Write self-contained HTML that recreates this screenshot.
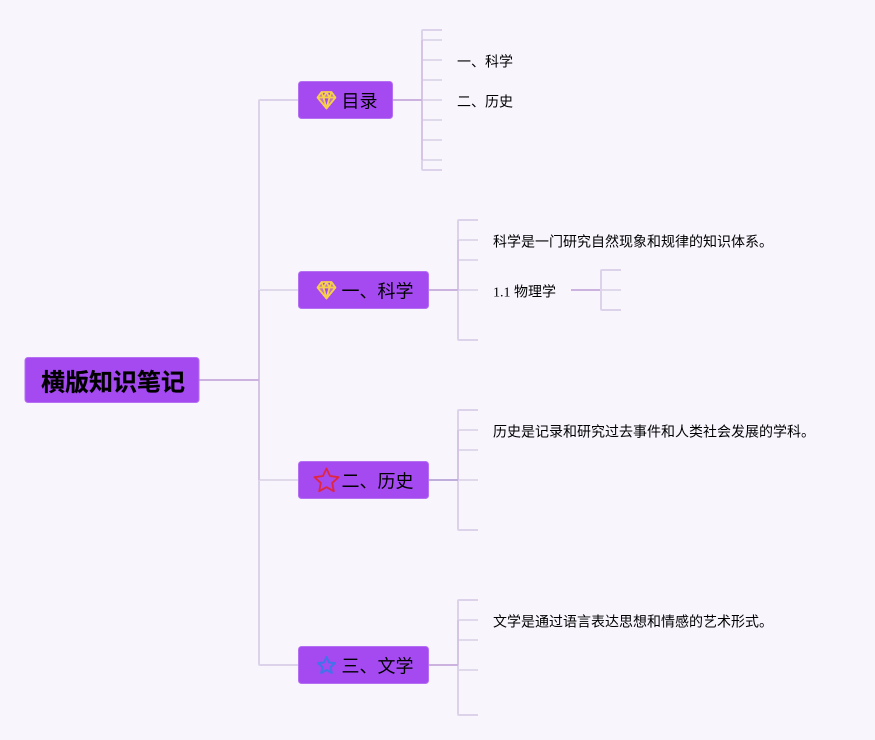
<!DOCTYPE html>
<html lang="zh">
<head>
<meta charset="utf-8">
<style>
html,body{margin:0;padding:0;background:#f8f5fd;width:875px;height:740px;overflow:hidden}
svg{display:block}
text{font-family:"Liberation Serif","WenQuanYi Zen Hei","Noto Sans CJK SC",sans-serif;fill:#000}
.t{stroke:#e0d9ec;stroke-width:2;fill:none}
.v{stroke:#dcd3ea;stroke-width:2;fill:none}
.b{stroke:#d3c5e3;stroke-width:2;fill:none}
.m{stroke:#cbb2df;stroke-width:2;fill:none}
.n{fill:#a549f0;stroke:#b56ff2;stroke-width:1}
.s{font-size:14px}
.l{font-size:18px}
</style>
</head>
<body>
<svg width="875" height="740" viewBox="0 0 875 740" xmlns="http://www.w3.org/2000/svg">
<path class="v" d="M298 100H260Q259 100 259 101V664Q259 665 260 665H298"/>
<path class="t" d="M259 290H298M259 480H298"/>
<path class="b" d="M259 290V480"/>
<path class="m" d="M199 380H259"/>

<path class="v" d="M442 30H423Q422 30 422 31V169Q422 170 423 170H442"/>
<path class="t" d="M423 40H442M423 60H442M423 80H442M423 100H442M423 120H442M423 140H442M423 160H442"/>
<path class="b" d="M422 40V160"/>
<path class="m" d="M392 100H422"/>

<path class="v" d="M478 220H459Q458 220 458 221V339Q458 340 459 340H478"/>
<path class="t" d="M459 240H478M459 260H478M459 290H478"/>
<path class="b" d="M458 240V290"/>
<path class="m" d="M428 290H458M571 290H601"/>
<path class="v" d="M621 270H602Q601 270 601 271V309Q601 310 602 310H621"/>
<path class="t" d="M602 290H621"/>

<path class="v" d="M478 410H459Q458 410 458 411V529Q458 530 459 530H478"/>
<path class="t" d="M459 430H478M459 450H478M459 480H478"/>
<path class="b" d="M458 430V480"/>
<path class="m" d="M428 480H458" style="stroke:#bfaedb"/>

<path class="v" d="M478 600H459Q458 600 458 601V714Q458 715 459 715H478"/>
<path class="t" d="M459 620H478M459 640H478M459 670H478"/>
<path class="b" d="M458 620V665"/>
<path class="m" d="M428 665H458"/>

<rect class="n" x="25" y="357.5" width="174" height="45" rx="3"/>
<rect class="n" x="298.5" y="81.5" width="94" height="37" rx="3"/>
<rect class="n" x="298.5" y="271.5" width="130" height="37" rx="3"/>
<rect class="n" x="298.5" y="461.5" width="130" height="37" rx="3"/>
<rect class="n" x="298.5" y="646.5" width="130" height="37" rx="3"/>

<g fill="#f3d35c" fill-opacity="0.35" stroke="#f6d04a" stroke-width="1.8" stroke-linejoin="round">
<path d="M321.5 92H331.5L335.5 97.5L326.5 108.5L317.5 97.5ZM317.5 97.5H335.5M321.5 92L323.5 97.5L326.5 108.5L329.5 97.5L331.5 92M323.5 97.5L326.5 92L329.5 97.5"/>
<path transform="translate(0 190)" d="M321.5 92H331.5L335.5 97.5L326.5 108.5L317.5 97.5ZM317.5 97.5H335.5M321.5 92L323.5 97.5L326.5 108.5L329.5 97.5L331.5 92M323.5 97.5L326.5 92L329.5 97.5"/>
</g>
<path fill="none" stroke="#e0263f" stroke-width="1.8" stroke-linejoin="round" d="M326.5 468.5L330 476L338.5 477.2L332.2 482.9L333.8 491.2L326.5 487.2L319.2 491.2L320.8 482.9L314.5 477.2L323 476Z"/>
<path fill="none" stroke="#3f74ea" stroke-width="2" stroke-linejoin="round" d="M326.5 657L329 662.5L335 663.1L330.5 667.1L331.8 673L326.5 670L321.2 673L322.5 667.1L318 663.1L324 662.5Z"/>

<text x="41" y="390.5" font-size="24" font-weight="bold" stroke="#000" stroke-width="0.2">横版知识笔记</text>
<text class="l" x="341.5" y="107.5">目录</text>
<text class="l" x="341.5" y="297.5">一、科学</text>
<text class="l" x="341.5" y="487.5">二、历史</text>
<text class="l" x="341.5" y="672.5">三、文学</text>

<text class="s" x="457" y="66.5">一、科学</text>
<text class="s" x="457" y="106.5">二、历史</text>
<text class="s" x="493" y="246.5">科学是一门研究自然现象和规律的知识体系。</text>
<text class="s" x="493" y="296.5">1.1 物理学</text>
<text class="s" x="493" y="436.5">历史是记录和研究过去事件和人类社会发展的学科。</text>
<text class="s" x="493" y="626.5">文学是通过语言表达思想和情感的艺术形式。</text>
</svg>
</body>
</html>
